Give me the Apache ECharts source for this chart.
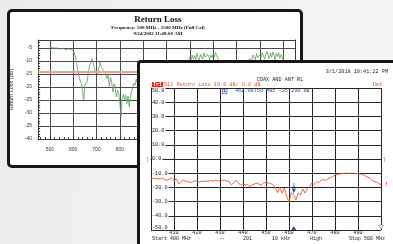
<!DOCTYPE html>
<html>
<head>
<meta charset="utf-8">
<script src="https://cdn.jsdelivr.net/npm/echarts@6/dist/echarts.min.js"></script>
<style>
html, body { margin: 0; padding: 0; }
body {
  width: 393px; height: 244px; overflow: hidden; position: relative;
  background: linear-gradient(100deg, #ebebeb 0%, #f2f2f2 55%, #f6f6f6 100%);
}
.layer { position: absolute; left: 0; top: 0; width: 393px; height: 244px; }
#winA {
  position: absolute; left: 7px; top: 9px; width: 296px; height: 159px;
  box-sizing: border-box; border: 3px solid #161616; border-radius: 5px; background: #fff;
}
#winB {
  position: absolute; left: 137px; top: 60px; width: 280px; height: 200px;
  box-sizing: border-box; border: 3px solid #161616; border-radius: 4px; background: #fff;
}
</style>
</head>
<body>
<div id="winA"></div>
<div id="chartA" class="layer"></div>
<div id="winB"></div>
<div id="chartB" class="layer"></div>
<script>
// 旧报告: Return Loss 500-1500 MHz, 每 5 MHz 一个点
const sweepStartA = 500;
const sweepStepA = 5;
const lossA = [
  -5.0, -5.2, -4.9, -5.3, -5.1, -5.4, -5.0, -5.3, -5.5, -5.2, -5.4, -5.6, -5.3, -5.5, -5.8, -5.6, -5.4, -5.9, -5.7, -6.0,
  -6.2, -7.0, -8.5, -11.0, -13.5, -15.8, -17.5, -18.8, -21.0, -25.5, -19.5, -20.2, -18.0, -14.5, -12.0, -10.5, -9.2, -10.8, -12.5, -13.8,
  -14.2, -14.8, -12.8, -10.6, -12.2, -11.5, -13.6, -12.9, -15.0, -16.8, -15.6, -19.8, -16.4, -18.2, -22.0, -18.8, -20.5, -23.8, -21.2, -22.5,
  -26.2, -31.5, -24.6, -22.8, -25.0, -23.2, -26.4, -23.5, -27.6, -24.0, -21.8, -20.2, -18.5, -19.4, -17.0, -18.8, -21.5, -19.2, -23.0, -20.4,
  -22.5, -19.8, -24.2, -21.0, -18.6, -23.4, -20.0, -25.6, -21.8, -19.0, -22.6, -17.8, -20.8, -24.0, -19.6, -21.4, -18.2, -16.5, -19.8, -17.4,
  -15.8, -18.6, -16.2, -14.4, -17.0, -15.2, -13.8, -16.4, -14.0, -12.6, -15.0, -13.2, -11.8, -14.2, -12.4, -11.0, -13.0, -11.6, -10.4, -9.6,
  -8.6, -9.8, -7.8, -9.2, -8.0, -9.6, -7.2, -8.8, -9.9, -7.6, -8.4, -9.4, -7.0, -8.6, -9.0, -7.4, -8.2, -9.6, -7.8, -8.8,
  -7.2, -8.4, -6.8, -8.0, -9.2, -8.6, -10.4, -12.6, -14.8, -16.2, -13.8, -17.4, -15.0, -18.6, -16.0, -14.2, -17.0, -15.4, -13.2, -14.6,
  -12.4, -13.8, -11.6, -12.8, -11.0, -10.6, -12.0, -10.2, -11.4, -9.8, -10.8, -9.2, -8.6, -9.8, -7.8, -8.4, -9.6, -7.2, -8.8, -9.4,
  -7.6, -8.6, -6.8, -8.2, -9.4, -7.4, -6.4, -8.0, -9.2, -7.0, -8.6, -6.6, -7.8, -9.6, -7.2, -8.4, -6.8, -9.0, -7.6, -8.2,
  -9.8
];
const limitA = -14;
const xTicksA = [500, 600, 700, 800, 900, 1000, 1100, 1200, 1300, 1400, 1500];
const yTicksA = [-5, -10, -15, -20, -25, -30, -35, -40];

// 分析仪: S11 Return Loss 400-500 MHz, 每 1 MHz 一个点
const sweepStartB = 400;
const sweepStepB = 1;
const lossB = [
  -13.8, -13.6, -14.0, -13.9, -14.2, -13.4, -14.6, -15.0, -14.2, -13.6,
  -15.2, -14.0, -17.6, -16.4, -14.8, -15.6, -15.8, -16.6, -16.0, -15.4,
  -15.8, -16.2, -15.6, -15.9, -15.4, -15.7, -15.2, -15.6, -14.9, -15.3,
  -15.6, -15.0, -14.8, -15.5, -16.0, -18.2, -16.4, -15.0, -16.8, -18.6,
  -17.2, -18.4, -18.0, -19.4, -18.2, -17.6, -17.0, -17.8, -18.4, -16.8,
  -16.4, -16.9, -17.2, -18.2, -20.0, -23.6, -19.6, -24.0, -20.4, -26.0,
  -30.4, -23.6, -25.3, -28.8, -23.8, -25.4, -21.2, -24.0, -20.6, -19.2,
  -16.8, -17.8, -16.2, -16.6, -15.0, -14.4, -15.2, -13.8, -13.2, -12.4,
  -11.4, -10.8, -10.6, -10.2, -10.1, -10.0, -10.2, -10.0, -10.1, -10.3,
  -10.2, -10.6, -11.0, -11.8, -12.6, -13.4, -14.6, -15.8, -16.4, -17.2,
  -18.2
];
const xTicksB = [410, 420, 430, 440, 450, 460, 470, 480, 490];
const refLevelB = 0;
const markerFreq = 462.0875;
const markerLoss = -25.296;
const footerB = ['Start 400 MHz', '--', '201', '10 kHz', 'High', 'Stop 500 MHz'];

const serifFont = '"Liberation Serif", "DejaVu Serif", serif';
const sansFont = '"Liberation Sans", Arial, sans-serif';
const monoFont = '"Liberation Mono", "DejaVu Sans Mono", monospace';

function txt(text, x, y, font, fill, align, vAlign, extra) {
  return {
    type: 'text', x: x, y: y, silent: true,
    style: Object.assign({
      text: text, font: font, fill: fill,
      align: align || 'left', textAlign: align || 'left',
      verticalAlign: vAlign || 'middle', textVerticalAlign: vAlign || 'middle'
    }, extra || {})
  };
}

// ---------- 左侧窗口 ----------
const chartA = echarts.init(document.getElementById('chartA'), null, { renderer: 'canvas' });
const lineA = lossA.map((v, i) => [sweepStartA + i * sweepStepA, v]);
const axisGrey = '#3a3a3a';

chartA.setOption({
  animation: false,
  grid: { left: 37, top: 40, right: 98, bottom: 105 },
  graphic: [
    txt('Return Loss', 158, 20, 'bold 9px ' + serifFont, '#111', 'center'),
    txt('Frequency: 500 MHz - 1500 MHz (Full Cal)', 158, 27.5, 'bold 5px ' + serifFont, '#111', 'center'),
    txt('9/24/2002 11:49:00 AM', 158, 33.5, 'bold 5px ' + serifFont, '#111', 'center')
  ],
  xAxis: [{
    type: 'value', min: 450, max: 1550, splitNumber: 11,
    axisLine: { lineStyle: { color: axisGrey, width: 1 } },
    axisTick: { inside: true, length: 3, lineStyle: { color: axisGrey } },
    minorTick: { show: true, splitNumber: 5, length: 2, lineStyle: { color: axisGrey } },
    axisLabel: {
      fontSize: 5, fontFamily: sansFont, color: '#333', margin: 8,
      formatter: v => (xTicksA.indexOf(v) >= 0 ? String(v) : '')
    },
    splitLine: { show: true, lineStyle: { color: '#4a4a4a', width: 1 } }
  }, {
    type: 'value', position: 'top', min: 450, max: 1550,
    axisLine: { show: true, lineStyle: { color: axisGrey } },
    axisTick: { show: false }, axisLabel: { show: false }, splitLine: { show: false }
  }],
  yAxis: [{
    type: 'value', min: -40, max: -2, interval: 5,
    name: 'Return Loss (dB)', nameLocation: 'middle', nameGap: 20,
    nameTextStyle: { fontSize: 5.5, fontFamily: sansFont, color: '#333' },
    axisLine: { show: true, lineStyle: { color: axisGrey, width: 1 } },
    axisTick: { show: true, inside: true, length: 3, lineStyle: { color: axisGrey } },
    minorTick: { show: true, splitNumber: 5, length: 2, lineStyle: { color: axisGrey } },
    axisLabel: {
      fontSize: 5, fontFamily: sansFont, color: '#333', margin: 6,
      formatter: v => (yTicksA.indexOf(v) >= 0 ? String(v) : '')
    },
    splitLine: { show: true, lineStyle: { color: '#4a4a4a', width: 1 } }
  }, {
    type: 'value', position: 'right', min: -40, max: -2,
    axisLine: { show: true, lineStyle: { color: axisGrey } },
    axisTick: { show: false }, axisLabel: { show: false }, splitLine: { show: false }
  }],
  series: [{
    type: 'line', data: lineA, symbol: 'none', silent: true,
    lineStyle: { color: '#5e9c5e', width: 0.8 },
    markLine: {
      silent: true, symbol: 'none', label: { show: false },
      lineStyle: { color: '#f2a08e', width: 2, type: 'solid' },
      data: [{ yAxis: limitA }]
    },
    z: 3
  }]
});

// ---------- 右侧窗口 ----------
const chartB = echarts.init(document.getElementById('chartB'), null, { renderer: 'canvas' });
const lineB = lossB.map((v, i) => [sweepStartB + i * sweepStepB, v]);
const gridInk = '#262626';
const traceRed = '#e8512b';
const markBlue = '#2b47b5';
const footerX = [152, 219, 243, 272, 310, 349];
const readout = markerFreq.toFixed(5) + ' MHz ' + markerLoss.toFixed(3) + ' dB';

chartB.setOption({
  animation: false,
  grid: { left: 151, top: 88, right: 12, bottom: 14 },
  graphic: [
    txt('3/1/2018 10:41:22 PM', 388, 72, '5.2px ' + monoFont, '#222', 'right'),
    txt('COAX AND ANT RL', 280, 79.5, '5.2px ' + monoFont, '#222', 'center'),
    txt('Tr1', 152, 84.5, 'bold 5px ' + monoFont, '#fff', 'left', 'middle',
      { backgroundColor: '#e02a1a', padding: [0, 1, 0, 1] }),
    txt('S11 Return Loss 10.0 dB/ 0.0 dB', 164, 84.5, '5.2px ' + monoFont, traceRed),
    txt('Dat', 382, 84.5, '5.2px ' + monoFont, traceRed, 'right'),
    txt('1', 222.5, 91, 'bold 5.2px ' + monoFont, markBlue, 'left', 'middle',
      { borderColor: markBlue, borderWidth: 0.6, padding: [0, 0.5, 0, 0.5], backgroundColor: '#dfe5ff' }),
    txt(readout, 235, 91, '5.2px ' + monoFont, markBlue)
  ].concat(footerB.map((s, i) => txt(s, footerX[i], 238.5, '5px ' + monoFont, '#222'))),
  xAxis: {
    type: 'value', min: 400, max: 500, interval: 10,
    axisLine: { show: true, lineStyle: { color: gridInk, width: 1 } },
    axisTick: { show: false },
    axisLabel: {
      fontSize: 5.2, fontFamily: monoFont, color: '#222', margin: 0.5,
      formatter: v => (xTicksB.indexOf(v) >= 0 ? String(v) : '')
    },
    splitLine: { show: true, lineStyle: { color: gridInk, width: 1 } }
  },
  yAxis: {
    type: 'value', min: -50, max: 50, interval: 10,
    axisLine: { show: true, lineStyle: { color: gridInk, width: 1 } },
    axisTick: { show: false },
    axisLabel: {
      inside: true, fontSize: 5.2, fontFamily: monoFont, color: '#222', margin: 1,
      backgroundColor: '#fff', padding: [0, 1, 0, 0],
      verticalAlignMinLabel: 'bottom', verticalAlignMaxLabel: 'top',
      formatter: v => v.toFixed(1)
    },
    splitLine: { show: true, lineStyle: { color: gridInk, width: 1 } }
  },
  series: [{
    type: 'line', data: lineB, symbol: 'none', silent: true,
    lineStyle: { color: traceRed, width: 0.9 },
    z: 3,
    markPoint: {
      silent: true,
      data: [
        {
          coord: [markerFreq, markerLoss], symbol: 'triangle', symbolRotate: 180,
          symbolSize: [4, 5], symbolOffset: [0, -4],
          itemStyle: { color: markBlue },
          label: { show: true, formatter: '1', position: 'top', distance: 0.5, fontSize: 5, fontFamily: monoFont, color: markBlue }
        },
        {
          coord: [markerFreq, -50], symbol: 'triangle', symbolSize: [5, 4], symbolOffset: [0, -2],
          itemStyle: { color: markBlue }, label: { show: false }
        },
        {
          coord: [400, refLevelB], symbol: 'rect', symbolSize: 0,
          label: { show: true, formatter: '[', position: 'left', distance: 1.5, fontSize: 6, fontFamily: monoFont, color: '#ec7a3a' }
        },
        {
          coord: [500, refLevelB], symbol: 'rect', symbolSize: 0,
          label: { show: true, formatter: ']', position: 'right', distance: 1.5, fontSize: 6, fontFamily: monoFont, color: '#ec7a3a' }
        },
        {
          coord: [500, lossB[lossB.length - 1]], symbol: 'rect', symbolSize: 0,
          label: { show: true, formatter: '!', position: 'right', distance: 3.5, fontSize: 6, fontWeight: 'bold', fontFamily: monoFont, color: '#e02a1a' }
        },
        {
          coord: [500, -50], symbol: 'triangle', symbolRotate: 180, symbolSize: [5, 4], symbolOffset: [0, -3],
          itemStyle: { color: '#fff', borderColor: '#777', borderWidth: 0.6 }, label: { show: false }
        }
      ]
    }
  }]
});
</script>
</body>
</html>
